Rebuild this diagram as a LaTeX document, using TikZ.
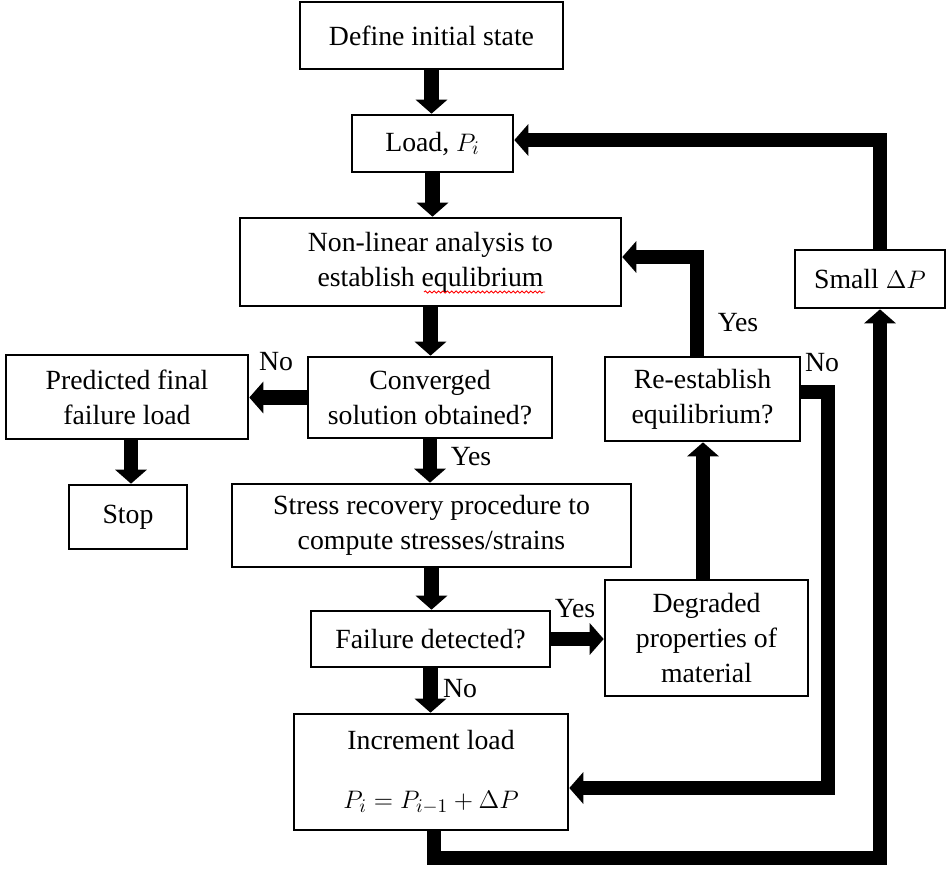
\documentclass[tikz,border=0pt]{standalone}
\usepackage{fontspec}
\setmainfont{Liberation Serif}
\usetikzlibrary{arrows.meta,decorations.pathmorphing}
\newcommand\myfs{\fontsize{15.8}{20}\selectfont}
\begin{document}
\begin{tikzpicture}[x=0.02cm,y=-0.02cm,
  box/.style={draw, line width=1.5pt, inner sep=0pt, align=center, font=\myfs},
  lbl/.style={inner sep=0pt, font=\myfs},
  arr/.style={line width=0.29cm, line join=miter, -{Triangle[width=0.62cm,length=0.28cm]}}]
\useasboundingbox (0,0) rectangle (947,870);
% boxes
\node[box, minimum width=5.26cm, minimum height=1.34cm] (def) at (431.5,35.5) {Define initial state};
\node[box, minimum width=3.22cm, minimum height=1.14cm] (load) at (432.5,143.5) {Load, $P_i$};
\node[box, minimum width=7.62cm, minimum height=1.76cm] (nl) at (430.5,262) {Non-linear analysis to\\establish equlibrium};
\node[box, minimum width=4.88cm, minimum height=1.62cm] (conv) at (430,397.5) {Converged\\solution obtained?};
\node[box, minimum width=4.84cm, minimum height=1.68cm] (pred) at (127,397) {Predicted final\\failure load};
\node[box, minimum width=2.36cm, minimum height=1.28cm] (stop) at (128,517) {Stop};
\node[box, minimum width=7.98cm, minimum height=1.66cm] (stress) at (431.5,525.5) {Stress recovery procedure to\\compute stresses/strains};
\node[box, minimum width=4.78cm, minimum height=1.12cm] (fail) at (430.5,639) {Failure detected?};
\node[box, minimum width=4.06cm, minimum height=2.32cm] (deg) at (706.5,638) {Degraded\\properties of\\material};
\node[box, minimum width=3.90cm, minimum height=1.68cm] (re) at (702.5,399) {Re-establish\\equilibrium?};
\node[box, minimum width=5.48cm, minimum height=2.32cm] (inc) at (431,772) {Increment load\\[0.48cm]$P_i = P_{i-1} + \Delta P$};
\node[box, minimum width=3.0cm, minimum height=1.16cm] (sdp) at (870,279) {Small $\Delta P$};
% spell-check underline
\draw[red, line width=0.5pt, decorate, decoration={snake, amplitude=0.6pt, segment length=2.5pt}] (424,292) -- (545,292);
% labels
\node[lbl] (lno1) at (276,362) {No};
\node[lbl] (lyes1) at (471,457) {Yes};
\node[lbl] (lyes2) at (575,609) {Yes};
\node[lbl] (lno2) at (460,689) {No};
\node[lbl] (lyes3) at (738,323) {Yes};
\node[lbl] (lno3) at (822,363) {No};
% waypoints
\coordinate (y1) at (697,257);
\coordinate (d1) at (703,500);
\coordinate (n1) at (828,392);
\coordinate (n2) at (828,788);
\coordinate (b1) at (434,858);
\coordinate (b2) at (880,858);
\coordinate (t1) at (880,140);
\coordinate (p1) at (131,0);
% connectors
\draw[arr] (def.south) -- (def.south |- load.north);
\draw[arr] (load.south) -- (load.south |- nl.north);
\draw[arr] (nl.south) -- (nl.south |- conv.north);
\draw[arr] (conv.south) -- (conv.south |- stress.north);
\draw[arr] (conv.west) -- (pred.east |- conv.west);
\draw[arr] (pred.south -| p1) -- (stop.north -| p1);
\draw[arr] (stress.south) -- (stress.south |- fail.north);
\draw[arr] (fail.east) -- (deg.west |- fail.east);
\draw[arr] (fail.south) -- (fail.south |- inc.north);
\draw[arr] (deg.north -| d1) -- (re.south -| d1);
\draw[arr] (re.north -| y1) -- (y1) -- (nl.east |- y1);
\draw[arr] (re.east |- n1) -- (n1) -- (n2) -- (inc.east |- n2);
\draw[arr] (inc.south -| b1) -- (b1) -- (b2) -- (sdp.south -| b2);
\draw[arr] (sdp.north -| t1) -- (t1) -- (load.east |- t1);
\end{tikzpicture}
\end{document}
